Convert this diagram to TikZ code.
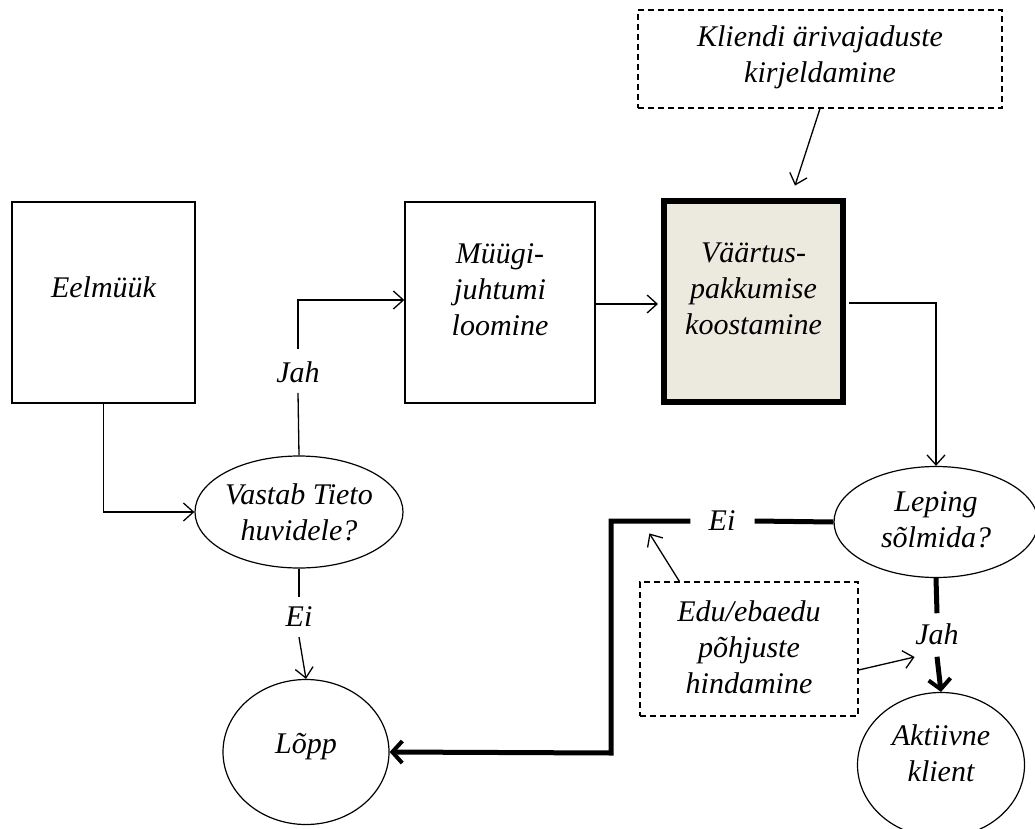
\documentclass[tikz,border=0pt]{standalone}
\usepackage{fontspec}
\setmainfont{Liberation Serif}
\usetikzlibrary{arrows.meta,shapes.geometric,calc}
\definecolor{boxfill}{HTML}{ECE9DF}
\begin{document}
\begin{tikzpicture}[x=1pt,y=-1pt,
  txt/.style={font=\fontsize{30}{36}\selectfont\itshape, align=center, inner sep=0pt},
  box/.style={draw, line width=1.4pt, minimum width=#1, minimum height=201pt, inner sep=0pt},
  keybox/.style={draw, line width=6pt, fill=boxfill, minimum width=179pt, minimum height=201pt, inner sep=0pt},
  note/.style={draw, dash pattern=on 6pt off 4pt, line width=1.2pt, inner sep=0pt},
  oval/.style={draw, ellipse, line width=1.2pt, inner sep=0pt},
  thin/.style={line width=1.3pt, -{Straight Barb[length=10pt,width=18pt,line width=1.3pt]}},
  plain/.style={line width=1.3pt},
  heavy/.style={line width=5pt},
  heavyarrow/.style={line width=5pt, -{Straight Barb[length=10pt,width=22pt,line width=4pt]}},
]
\useasboundingbox (0,0) rectangle (1035,829);
\clip (0,0) rectangle (1035,829);

% process boxes
\node[box=183pt] (eel) at (103.5,302.5) {};
\node[txt] at ($(eel.center)+(0,-15)$) {Eelmüük};
\node[box=190pt] (myyk) at (500,302.5) {};
\node[txt] at ($(myyk.center)+(0,-13)$) {Müügi-\\juhtumi\\loomine};
\node[keybox] (vaart) at (753.5,301.5) {};
\node[txt] at ($(vaart.center)+(0,-13)$) {Väärtus-\\pakkumise\\koostamine};

% dashed notes
\node[note, minimum width=364pt, minimum height=98pt] (kliendi) at (820,59) {};
\node[txt] at ($(kliendi.center)+(0,-2)$) {Kliendi ärivajaduste\\kirjeldamine};
\node[note, minimum width=218pt, minimum height=134pt] (edu) at (749,649) {};
\node[txt] at ($(edu.center)+(0,-2)$) {Edu/ebaedu\\põhjuste\\hindamine};

% decisions and end states
\node[oval, minimum width=208pt, minimum height=112pt] (vastab) at (299,512) {};
\node[txt] at (vastab.center) {Vastab Tieto\\huvidele?};
\node[oval, minimum width=204pt, minimum height=111pt] (leping) at (936,522) {};
\node[txt] at ($(leping.center)+(0,-2)$) {Leping\\sõlmida?};
\node[oval, minimum width=166pt, minimum height=145pt] (lopp) at (306,752) {};
\node[txt] at ($(lopp.center)+(0,-5)$) {Lõpp};
\node[oval, minimum width=167pt, minimum height=145pt] (aktiiv) at (941,765) {};
\node[txt] at ($(aktiiv.center)+(0,-12)$) {Aktiivne\\klient};

% branch labels
\node[txt] (jah1) at (298,372) {Jah};
\node[txt] (ei1) at (299,617) {Ei};
\node[txt] (ei2) at (722,521) {Ei};
\node[txt] (jah2) at (937,634) {Jah};

% helper points on the thick "Ei" route
\coordinate (bendA) at (611,521);
\coordinate (bendB) at (611,753);

% connectors
\draw[thin] (eel.south) |- (vastab.west);
\draw[plain] (vastab.north) -- ($(jah1.south)+(0,10)$);
\draw[thin] ($(jah1.north)+(0,-12)$) |- (myyk.west |- 0,300);
\draw[plain] (vastab.south) -- ($(ei1.north)+(0,-10)$);
\draw[thin] ($(ei1.south)+(0,10)$) -- (lopp.north);
\draw[thin] (myyk.east |- 0,304) -- ($(vaart.west |- 0,304)+(-3,0)$);
\draw[thin] ($(vaart.east |- 0,303)+(3,0)$) -| (leping.north);
\draw[thin] (kliendi.south) -- ++(-25,77);

\draw[heavy] (leping.west) -- ($(ei2.east)+(19,0)$);
\draw[heavyarrow, line join=miter] ($(ei2.west)+(-18,0)$) -- (bendA) -- (bendB) -- (lopp.east);
\draw[heavy] (leping.south) -- ($(jah2.north)+(0,-10)$);
\draw[heavyarrow] ($(jah2.south)+(0,12)$) -- (aktiiv.north);

\draw[thin] ($(edu.north west)+(40,0)$) -- ++(-30,-48);
\draw[thin] ($(edu.east)+(0,21)$) -- ++(56,-13);
\end{tikzpicture}
\end{document}
